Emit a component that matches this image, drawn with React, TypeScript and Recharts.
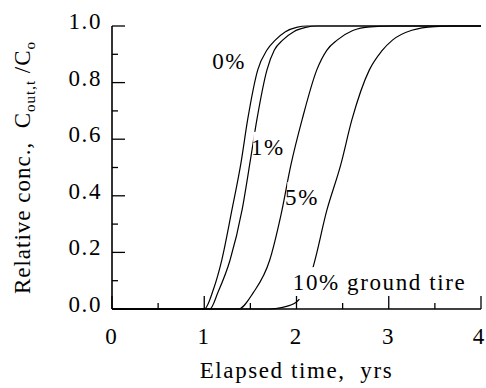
import React from 'react';
import { LineChart, Line, XAxis, YAxis, ReferenceDot, Label } from 'recharts';

// Elapsed time (yrs) and relative concentration for each ground-tire content
const time0 = [0, 1.0, 1.1, 1.19, 1.3, 1.4, 1.47, 1.58, 1.68, 1.77, 1.88, 2.0, 2.12, 4];
const conc0 = [0, 0, 0.07, 0.173, 0.35, 0.52, 0.668, 0.845, 0.915, 0.95, 0.98, 0.995, 1.0, 1.0];

const time1 = [0, 1.06, 1.15, 1.28, 1.41, 1.5, 1.57, 1.68, 1.76, 1.85, 1.97, 2.1, 2.22, 4];
const conc1 = [0, 0, 0.06, 0.173, 0.35, 0.526, 0.668, 0.845, 0.915, 0.95, 0.98, 0.995, 1.0, 1.0];

const time5 = [0, 1.37, 1.53, 1.71, 1.83, 1.94, 2.06, 2.22, 2.33, 2.44, 2.61, 2.8, 3.05, 4];
const conc5 = [0, 0, 0.057, 0.173, 0.33, 0.51, 0.668, 0.845, 0.915, 0.95, 0.984, 0.997, 1.0, 1.0];

const time10 = [0, 1.7, 1.85, 2.0, 2.17, 2.33, 2.48, 2.6, 2.79, 2.92, 3.04, 3.25, 3.5, 3.7, 4];
const conc10 = [0, 0, 0.006, 0.025, 0.138, 0.35, 0.51, 0.668, 0.845, 0.91, 0.95, 0.985, 0.998, 1.0, 1.0];

// Axis ticks
const xTicks = [0, 0.5, 1, 1.5, 2, 2.5, 3, 3.5, 4];
const yTicks = [0, 0.1, 0.2, 0.3, 0.4, 0.5, 0.6, 0.7, 0.8, 0.9, 1.0];

// Curve annotations
const labelText = ['0%', '1%', '5%', '10% ground tire'];
const labelT = [1.27, 1.69, 2.06, 2.9];
const labelC = [0.875, 0.573, 0.396, 0.095];

const toSeries = (t: number[], c: number[]) => t.map((v, i) => ({ t: v, c: c[i] }));
const series = [
  { name: '0%', data: toSeries(time0, conc0) },
  { name: '1%', data: toSeries(time1, conc1) },
  { name: '5%', data: toSeries(time5, conc5) },
  { name: '10%', data: toSeries(time10, conc10) },
];

const FS = 23;
const LS = 1.6;
const textStyle: React.CSSProperties = { fontFamily: '"Liberation Serif", "Times New Roman", Times, serif', fontSize: FS, letterSpacing: LS };
const MAJOR = 13;
const MINOR = 6;

const isMajorX = (v: number) => Math.abs(v - Math.round(v)) < 1e-6;
const isMajorY = (v: number) => Math.round(v * 10) % 2 === 0;

const BottomTick = (props: any) => {
  const { x, y, payload } = props;
  const v = payload.value;
  const major = isMajorX(v);
  const last = v === xTicks[xTicks.length - 1];
  return (
    <g>
      <line x1={x} x2={x} y1={y} y2={y - (major ? MAJOR : MINOR)} stroke="#000" strokeWidth={1.3} />
      {major && (
        <text x={x - (last ? 2.5 : 1)} y={y + 35} textAnchor="middle" style={{ ...textStyle, letterSpacing: 0 }} fill="#000">
          {String(v)}
        </text>
      )}
    </g>
  );
};

const TopTick = (props: any) => {
  const { x, y, payload } = props;
  const major = isMajorX(payload.value);
  return <line x1={x} x2={x} y1={y} y2={y + (major ? MAJOR : MINOR)} stroke="#000" strokeWidth={1.3} />;
};

const LeftTick = (props: any) => {
  const { x, y, payload } = props;
  const v = payload.value;
  const major = isMajorY(v);
  return (
    <g>
      <line x1={x} x2={x + (major ? MAJOR : MINOR)} y1={y} y2={y} stroke="#000" strokeWidth={1.3} />
      {major && (
        <text x={x - 10} y={y + 3} textAnchor="end" style={textStyle} fill="#000">
          {v.toFixed(1)}
        </text>
      )}
    </g>
  );
};

const RightTick = (props: any) => {
  const { x, y, payload } = props;
  const major = isMajorY(payload.value);
  return <line x1={x} x2={x - (major ? MAJOR : MINOR)} y1={y} y2={y} stroke="#000" strokeWidth={1.3} />;
};

const XTitle = (props: any) => {
  const vb = props.viewBox;
  return (
    <text x={vb.x + vb.width / 2} y={vb.y + 69} textAnchor="middle" style={textStyle} fill="#000">
      {'Elapsed time,\u00a0 yrs'}
    </text>
  );
};

const YTitle = (props: any) => {
  const vb = props.viewBox;
  const cx = vb.x + 22;
  const cy = vb.y + vb.height / 2;
  return (
    <text transform={`translate(${cx},${cy}) rotate(-90)`} textAnchor="middle" style={{ ...textStyle, letterSpacing: 1 }} fill="#000">
      <tspan>{'Relative conc.,\u00a0 C'}</tspan>
      <tspan style={{ fontSize: 15 }} dy={5}>out,t</tspan>
      <tspan dy={-5}>{' /C'}</tspan>
      <tspan style={{ fontSize: 15 }} dy={5}>o</tspan>
    </text>
  );
};

const makeAnnot = (text: string) => (props: any) => {
  const vb = props.viewBox;
  const cx = vb.x + vb.width / 2;
  const cy = vb.y + vb.height / 2;
  const w = text.length * 11.7;
  return (
    <g>
      <rect x={cx - w / 2 - 3} y={cy - 15} width={w + 6} height={32} fill="#fff" />
      <text x={cx} y={cy + 8} textAnchor="middle" style={textStyle} fill="#000">
        {text}
      </text>
    </g>
  );
};

export default function App() {
  return (
    <div style={{ position: 'fixed', left: 8, top: 8, width: 478, height: 380, background: '#fff' }}>
      <LineChart width={478} height={380} margin={{ top: 18, right: 5, bottom: 0, left: 0 }}>
        <XAxis
          xAxisId="b"
          type="number"
          dataKey="t"
          domain={[0, 4]}
          ticks={xTicks}
          orientation="bottom"
          height={79}
          tickSize={0}
          tickMargin={0}
          tickLine={false}
          tick={<BottomTick />}
          axisLine={{ stroke: '#000', strokeWidth: 1.6 }}
        >
          <Label content={<XTitle />} />
        </XAxis>
        <XAxis
          xAxisId="t"
          type="number"
          dataKey="t"
          domain={[0, 4]}
          ticks={xTicks}
          orientation="top"
          height={0}
          tickSize={0}
          tickMargin={0}
          tickLine={false}
          tick={<TopTick />}
          axisLine={{ stroke: '#000', strokeWidth: 1.6 }}
        />
        <YAxis
          yAxisId="l"
          type="number"
          domain={[0, 1]}
          ticks={yTicks}
          orientation="left"
          width={104}
          tickSize={0}
          tickMargin={0}
          tickLine={false}
          tick={<LeftTick />}
          axisLine={{ stroke: '#000', strokeWidth: 1.6 }}
        >
          <Label content={<YTitle />} />
        </YAxis>
        <YAxis
          yAxisId="r"
          type="number"
          domain={[0, 1]}
          ticks={yTicks}
          orientation="right"
          width={0}
          tickSize={0}
          tickMargin={0}
          tickLine={false}
          tick={<RightTick />}
          axisLine={{ stroke: '#000', strokeWidth: 1.6 }}
        />
        {series.map((s) => (
          <Line
            key={s.name}
            xAxisId="b"
            yAxisId="l"
            data={s.data}
            dataKey="c"
            type="monotone"
            stroke="#000"
            strokeWidth={1.2}
            dot={false}
            activeDot={false}
            isAnimationActive={false}
          />
        ))}
        {labelText.map((txt, i) => (
          <ReferenceDot
            key={txt}
            xAxisId="b"
            yAxisId="l"
            x={labelT[i]}
            y={labelC[i]}
            r={1}
            fill="none"
            stroke="none"
            label={makeAnnot(txt)}
          />
        ))}
      </LineChart>
    </div>
  );
}
